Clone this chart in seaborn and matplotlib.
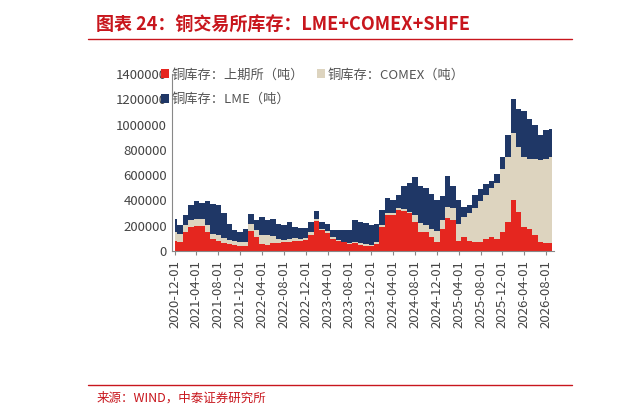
import numpy as np
import pandas as pd
import matplotlib.pyplot as plt
import seaborn as sns

# 月度库存（千吨）
months = pd.date_range("2020-12-01", periods=70, freq="MS")
shfe = [81, 68, 149, 189, 197, 197, 149, 95, 81, 62, 54, 46, 41, 41, 154, 108, 54, 46, 62, 62,
        68, 68, 81, 78, 89, 122, 235, 162, 143, 95, 81, 68, 54, 62, 46, 41, 35, 54, 189, 284,
        284, 324, 316, 297, 230, 149, 149, 108, 73, 176, 262, 243, 81, 108, 81, 73, 73, 95, 108, 95,
        149, 230, 405, 311, 189, 176, 122, 68, 62, 62]
comex = [68, 68, 59, 54, 59, 59, 54, 41, 41, 41, 35, 30, 27, 32, 62, 54, 68, 76, 59, 32,
         19, 22, 19, 16, 11, 27, 16, 14, 11, 11, 8, 5, 8, 11, 14, 11, 11, 19, 14, 14,
         14, 14, 16, 14, 54, 68, 54, 68, 81, 68, 89, 95, 135, 162, 216, 265, 319, 351, 392, 446,
         500, 513, 527, 513, 554, 554, 608, 648, 667, 680]
lme = [103, 68, 76, 122, 135, 122, 189, 235, 243, 194, 127, 86, 81, 103, 73, 81, 149, 122, 135, 122,
       116, 140, 89, 86, 81, 81, 65, 54, 62, 57, 73, 89, 100, 170, 170, 165, 162, 143, 122, 122,
       108, 108, 181, 230, 297, 297, 297, 275, 251, 189, 243, 176, 189, 81, 68, 108, 95, 81, 54, 68,
       95, 176, 270, 297, 365, 311, 270, 203, 230, 221]

df = pd.DataFrame({"date": months, "shfe": np.array(shfe) * 1000,
                   "comex": np.array(comex) * 1000, "lme": np.array(lme) * 1000})
df["l1"] = df["shfe"]
df["l2"] = df["l1"] + df["comex"]
df["l3"] = df["l2"] + df["lme"]
x = np.arange(len(df))

sns.set_style("white")
plt.rcParams["font.family"] = ["Noto Sans CJK SC", "DejaVu Sans"]

fig = plt.figure(figsize=(6.32, 4.16), dpi=100)
ax = fig.add_axes([0.272, 0.397, 0.605, 0.425])

c_shfe, c_comex, c_lme = "#e5261f", "#ddd4bf", "#1f3766"
ax.fill_between(x, df["l2"], df["l3"], step="mid", color=c_lme, lw=0, label="铜库存：LME（吨）")
ax.fill_between(x, df["l1"], df["l2"], step="mid", color=c_comex, lw=0, label="铜库存：COMEX（吨）")
ax.fill_between(x, 0, df["l1"], step="mid", color=c_shfe, lw=0, label="铜库存：上期所（吨）")

ax.set_ylim(0, 1400000)
ax.set_yticks(range(0, 1400001, 200000))
ax.set_xlim(-0.5, len(df) - 0.5)
tick_idx = x[::4]
ax.set_xticks(tick_idx)
ax.set_xticklabels([months[i].strftime("%Y-%m-%d") for i in tick_idx], rotation=90, fontsize=9.5, color="#444444")
ax.tick_params(axis="y", labelsize=9.5, colors="#444444", length=0)
ax.tick_params(axis="x", direction="out", length=3, color="#888888", bottom=True)
ax.set_yticklabels([str(v) for v in range(0, 1400001, 200000)], color="#444444")
for s in ["top", "right"]:
    ax.spines[s].set_visible(False)
for s in ["left", "bottom"]:
    ax.spines[s].set_color("#888888")

h, l = ax.get_legend_handles_labels()
ax.legend([h[2], h[0], h[1]], [l[2], l[0], l[1]], ncol=2, loc="upper left",
          bbox_to_anchor=(-0.06, 1.1), frameon=False, fontsize=9.5, handlelength=0.6,
          handleheight=0.6, handletextpad=0.2, columnspacing=1.0, labelspacing=0.9,
          labelcolor="#555555")

fig.text(0.152, 0.925, "图表 24：铜交易所库存：LME+COMEX+SHFE", color="#c8161d",
         fontsize=13, fontweight="bold", style="italic")
fig.add_artist(plt.Line2D([0.14, 0.905], [0.907, 0.907], color="#c8161d", lw=1))
fig.add_artist(plt.Line2D([0.14, 0.905], [0.075, 0.075], color="#c8161d", lw=1))
fig.text(0.152, 0.035, "来源：WIND，中泰证券研究所", color="#c8161d", fontsize=9)

fig.savefig("out.png", dpi=100)
